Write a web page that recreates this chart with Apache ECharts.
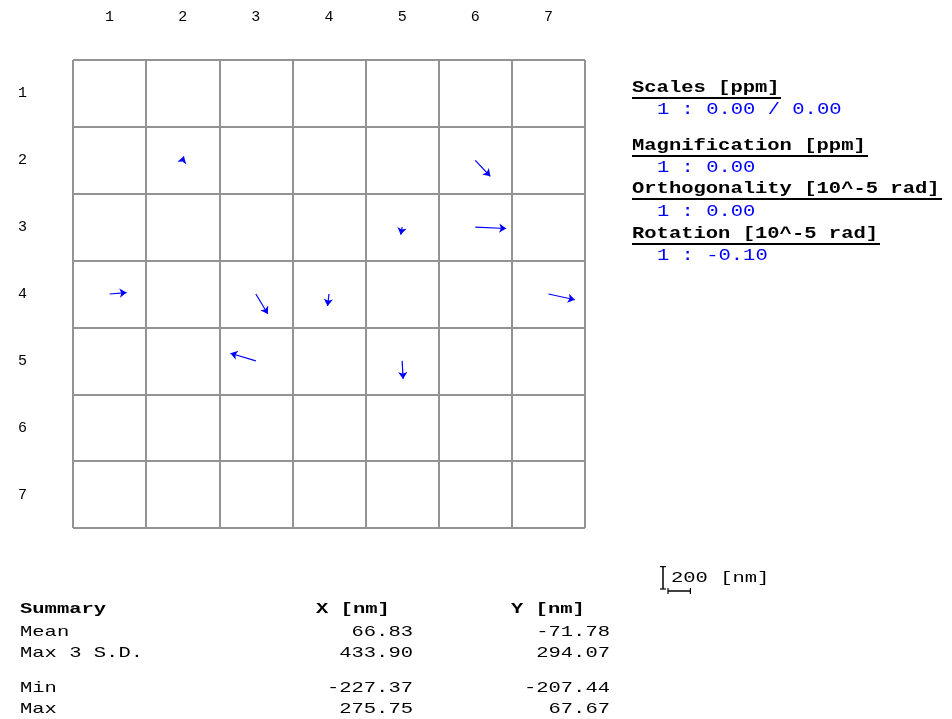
<!DOCTYPE html>
<html>
<head>
<meta charset="utf-8">
<style>
  html, body { margin: 0; padding: 0; background: #fff; }
  #main { width: 952px; height: 719px; }
</style>
<script src="https://cdn.jsdelivr.net/npm/echarts@6/dist/echarts.min.js"></script>
</head>
<body>
<div id="main"></div>
<script>
// Grid labels
const colLabels = ['1', '2', '3', '4', '5', '6', '7'];
const rowLabels = ['1', '2', '3', '4', '5', '6', '7'];

// Measured error vectors per field (row, column) in nm; +Y points up
const vecRow = [2, 2, 3, 3, 4, 4, 4, 4, 5, 5];
const vecCol = [2, 6, 5, 6, 1, 3, 4, 7, 3, 5];
const vecDx  = [10, 134, -13, 275.75, 152, 107, -13, 236, -227.37, 9];
const vecDy  = [35, -143, -67, -12, 13, -178, -107, -51, 67.67, -161];

// Summary statistics
const summaryRows = ['Mean', 'Max 3 S.D.', 'Min', 'Max'];
const summaryX = ['66.83', '433.90', '-227.37', '275.75'];
const summaryY = ['-71.78', '294.07', '-207.44', '67.67'];

// Model parameters
const paramTitles = ['Scales [ppm]', 'Magnification [ppm]', 'Orthogonality [10^-5 rad]', 'Rotation [10^-5 rad]'];
const paramValues = ['1 : 0.00 / 0.00', '1 : 0.00', '1 : 0.00', '1 : -0.10'];

const scaleBarNm = 200;

// Layout
const GRID = { left: 73, top: 60, width: 512, height: 468 };
const PX_PER_NM = 0.112;           // vector magnification on screen
const cellW = GRID.width / colLabels.length;
const cellH = GRID.height / rowLabels.length;
const MONO = '"Liberation Mono", "Courier New", monospace';
const CHAR_W = 12.3;               // character pitch of the text panels, px

const vectorData = vecRow.map((r, i) => {
  const x0 = vecCol[i] - 0.5;
  const y0 = r - 0.5;
  const x1 = x0 + vecDx[i] * PX_PER_NM / cellW;
  const y1 = y0 - vecDy[i] * PX_PER_NM / cellH;
  return { coords: [[x0, y0], [x1, y1]] };
});

function txt(text, x, y, opts) {
  opts = opts || {};
  const size = opts.size || 16;
  return {
    type: 'text', x: x, y: y, scaleX: CHAR_W / (size * 0.6), silent: true,
    style: {
      text: text,
      font: (opts.bold ? 'bold ' : '') + size + 'px ' + MONO,
      fill: opts.color || '#000',
      textAlign: opts.align || 'left',
      textVerticalAlign: 'middle'
    }
  };
}
function hline(x1, x2, y, w) {
  return { type: 'line', silent: true, shape: { x1: x1, y1: y, x2: x2, y2: y },
           style: { stroke: '#000', lineWidth: w || 1 } };
}
function vline(x, y1, y2, w) {
  return { type: 'line', silent: true, shape: { x1: x, y1: y1, x2: x, y2: y2 },
           style: { stroke: '#000', lineWidth: w || 1 } };
}

const graphics = [];

// Parameter panel
const panelX = 632, valueX = 657;
const titleY = [88, 146, 189, 234];
const valueY = [110, 168, 212, 256];
const underlineEnd = [781, 868, 942, 880];
paramTitles.forEach((t, i) => {
  graphics.push(txt(t, panelX, titleY[i], { bold: true }));
  graphics.push(hline(panelX, underlineEnd[i], titleY[i] + 10, 2));
  graphics.push(txt(paramValues[i], valueX, valueY[i], { color: '#0000ff' }));
});

// Summary table
const colX = 20, xRight = 413, yRight = 610;
graphics.push(txt('Summary', colX, 609, { bold: true, size: 15 }));
graphics.push(txt('X [nm]', 316, 609, { bold: true, size: 15 }));
graphics.push(txt('Y [nm]', 511, 609, { bold: true, size: 15 }));
const rowY = [632, 653, 688, 709];
summaryRows.forEach((r, i) => {
  graphics.push(txt(r, colX, rowY[i], { size: 15 }));
  graphics.push(txt(summaryX[i], xRight, rowY[i], { align: 'right', size: 15 }));
  graphics.push(txt(summaryY[i], yRight, rowY[i], { align: 'right', size: 15 }));
});

// Scale bar (same magnification as the vectors)
const barLen = scaleBarNm * PX_PER_NM;
const bx = 663, byBottom = 589;
graphics.push(vline(bx, byBottom - barLen, byBottom, 1.5));
graphics.push(hline(bx - 3, bx + 3, byBottom - barLen, 1.2));
graphics.push(hline(bx - 3, bx + 3, byBottom, 1.2));
graphics.push(hline(bx + 5, bx + 5 + barLen, byBottom + 2, 1.5));
graphics.push(vline(bx + 5, byBottom - 1, byBottom + 5, 1.2));
graphics.push(vline(bx + 5 + barLen, byBottom - 1, byBottom + 5, 1.2));
graphics.push(txt(String(scaleBarNm) + ' [nm]', 671, 578, { size: 15 }));

const splitStyle = { show: true, lineStyle: { color: '#939393', width: 2 } };
const hidden = { axisLine: { show: false }, axisTick: { show: false }, axisLabel: { show: false } };
const labelFont = { fontFamily: MONO, fontSize: 15, color: '#000' };

const option = {
  animation: false,
  backgroundColor: '#fff',
  grid: Object.assign({ containLabel: false }, GRID),
  xAxis: [
    Object.assign({ type: 'value', min: 0, max: 7, interval: 1, position: 'bottom',
                    splitLine: splitStyle }, hidden),
    { type: 'category', data: colLabels, position: 'top', boundaryGap: true,
      axisLine: { show: false }, axisTick: { show: false }, splitLine: { show: false },
      axisLabel: Object.assign({ margin: 35, interval: 0 }, labelFont) }
  ],
  yAxis: [
    Object.assign({ type: 'value', min: 0, max: 7, interval: 1, inverse: true, position: 'right',
                    splitLine: splitStyle }, hidden),
    { type: 'category', data: rowLabels, inverse: true, position: 'left', boundaryGap: true,
      axisLine: { show: false }, axisTick: { show: false }, splitLine: { show: false },
      axisLabel: Object.assign({ margin: 55, align: 'left', interval: 0, padding: [4, 0, 0, 0] }, labelFont) }
  ],
  series: [{
    type: 'lines',
    coordinateSystem: 'cartesian2d',
    xAxisIndex: 0,
    yAxisIndex: 0,
    silent: true,
    symbol: ['none', 'arrow'],
    symbolSize: [5, 7],
    lineStyle: { color: '#0000ff', width: 1.2, opacity: 1 },
    data: vectorData
  }],
  graphic: graphics
};

const chart = echarts.init(document.getElementById('main'), null, { renderer: 'canvas' });
chart.setOption(option);
</script>
</body>
</html>
